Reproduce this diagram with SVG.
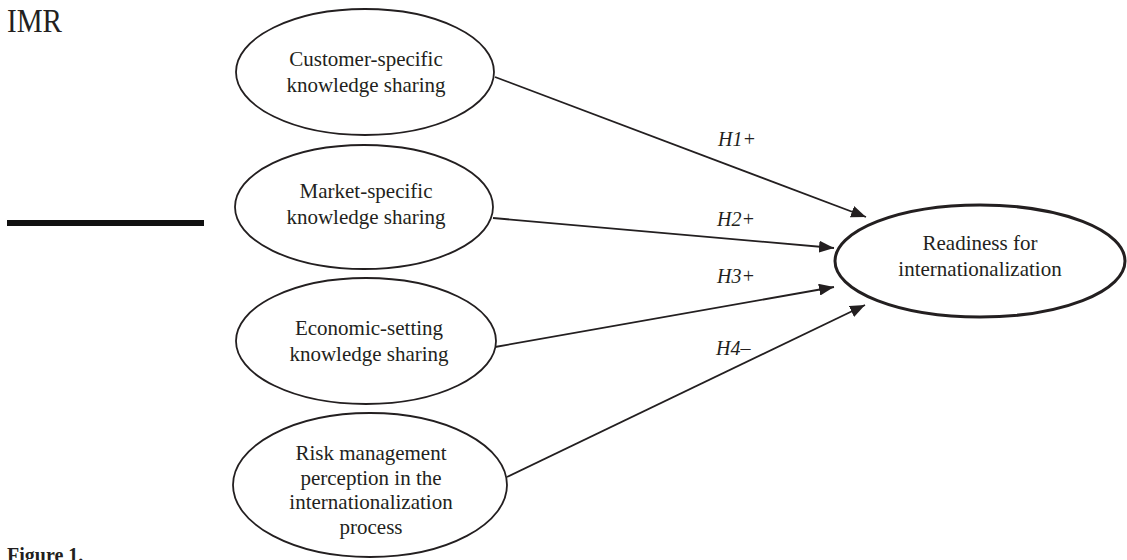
<svg xmlns="http://www.w3.org/2000/svg" width="1127" height="560" viewBox="0 0 1127 560">
  <style>
    .node { fill: #ffffff; stroke: #231f20; stroke-width: 1.8; }
    .node-main { fill: #ffffff; stroke: #231f20; stroke-width: 3; }
    .label { font-family: "Liberation Serif", "Times New Roman", serif; font-size: 21px; fill: #231f20; text-anchor: middle; }
    .hyp { font-family: "Liberation Serif", "Times New Roman", serif; font-size: 20px; font-style: italic; fill: #231f20; }
    .edge { stroke: #231f20; stroke-width: 1.8; fill: none; marker-end: url(#arrow); }
  </style>
  <defs>
    <marker id="arrow" markerUnits="userSpaceOnUse" markerWidth="16" markerHeight="12" refX="15" refY="6" orient="auto">
      <path d="M0,0 L15,6 L0,12 Z" fill="#231f20"/>
    </marker>
  </defs>

  <!-- journal header mark and rule -->
  <text x="7" y="32" font-family="'Liberation Serif', 'Times New Roman', serif" font-size="34" fill="#231f20" textLength="55" lengthAdjust="spacingAndGlyphs">IMR</text>
  <rect x="7" y="220" width="197" height="6" fill="#111111"/>

  <!-- connectors -->
  <g id="connectors">
    <line class="edge" x1="495" y1="77" x2="866" y2="217"/>
    <line class="edge" x1="493" y1="218" x2="834" y2="248"/>
    <line class="edge" x1="495" y1="347" x2="834" y2="287"/>
    <line class="edge" x1="507" y1="477" x2="865" y2="305"/>
    <text class="hyp" x="718" y="146">H1+</text>
    <text class="hyp" x="717" y="226">H2+</text>
    <text class="hyp" x="717" y="283">H3+</text>
    <text class="hyp" x="716" y="355">H4–</text>
  </g>

  <g id="customer">
    <ellipse class="node" cx="365" cy="72" rx="129" ry="63"/>
    <text class="label" x="366" y="66">Customer-specific</text>
    <text class="label" x="366" y="92">knowledge sharing</text>
  </g>

  <g id="market">
    <ellipse class="node" cx="364" cy="207" rx="129" ry="62"/>
    <text class="label" x="366" y="198">Market-specific</text>
    <text class="label" x="366" y="224">knowledge sharing</text>
  </g>

  <g id="economic">
    <ellipse class="node" cx="366" cy="341" rx="130" ry="63"/>
    <text class="label" x="369" y="335">Economic-setting</text>
    <text class="label" x="369" y="361">knowledge sharing</text>
  </g>

  <g id="risk">
    <ellipse class="node" cx="370" cy="485" rx="137" ry="72"/>
    <text class="label" x="371" y="460">Risk management</text>
    <text class="label" x="371" y="485">perception in the</text>
    <text class="label" x="371" y="509">internationalization</text>
    <text class="label" x="371" y="534">process</text>
  </g>

  <g id="readiness">
    <ellipse class="node-main" cx="980" cy="261" rx="145" ry="56"/>
    <text class="label" x="980" y="250">Readiness for</text>
    <text class="label" x="980" y="276">internationalization</text>
  </g>

  <text x="7" y="562" font-family="'Liberation Serif', 'Times New Roman', serif" font-size="20" font-weight="bold" fill="#231f20">Figure 1.</text>
</svg>
